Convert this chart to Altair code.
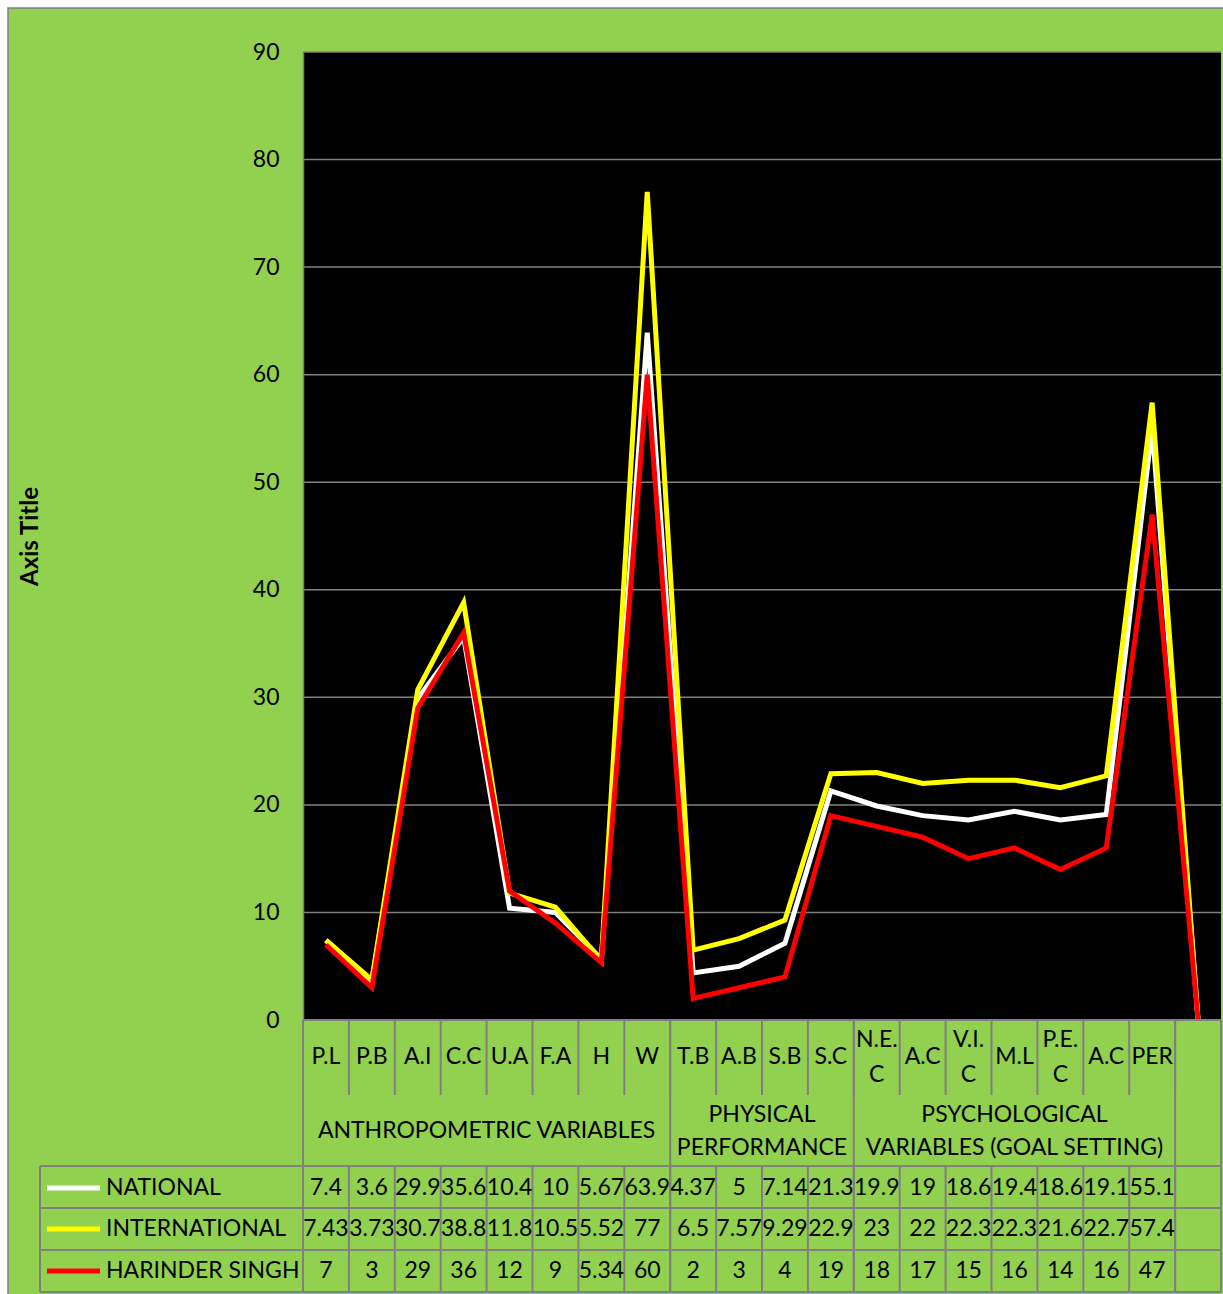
import altair as alt
import pandas as pd

# ---- data -------------------------------------------------------------
categories = ["P.L", "P.B", "A.I", "C.C", "U.A", "F.A", "H", "W",
              "T.B", "A.B", "S.B", "S.C",
              "N.E.\nC", "A.C", "V.I.\nC", "M.L", "P.E.\nC", "A.C", "PER", ""]

group_names = ["ANTHROPOMETRIC VARIABLES",
               "PHYSICAL\nPERFORMANCE",
               "PSYCHOLOGICAL\nVARIABLES (GOAL SETTING)"]
group_start = [0, 8, 12]
group_end = [8, 12, 19]

series_names = ["NATIONAL", "INTERNATIONAL", "HARINDER SINGH"]
series_colors = ["#FFFFFF", "#FFFF00", "#FF0000"]

national = [7.4, 3.6, 29.9, 35.6, 10.4, 10, 5.67, 63.9, 4.37, 5, 7.14, 21.3,
            19.9, 19, 18.6, 19.4, 18.6, 19.1, 55.1]
international = [7.43, 3.73, 30.7, 38.8, 11.8, 10.5, 5.52, 77, 6.5, 7.57, 9.29, 22.9,
                 23, 22, 22.3, 22.3, 21.6, 22.7, 57.4]
harinder = [7, 3, 29, 36, 12, 9, 5.34, 60, 2, 3, 4, 19,
            18, 17, 15, 16, 14, 16, 47]
series_values = [national, international, harinder]

y_ticks = [0, 10, 20, 30, 40, 50, 60, 70, 80, 90]

# ---- layout -----------------------------------------------------------
W, H = 918, 968
FONT = "Lato"
FS = 23
GREEN = "#92D050"
GRID = "#808080"

n_cat = len(categories)
x_scale = alt.Scale(domain=[0, n_cat], nice=False, zero=False)
y_scale = alt.Scale(domain=[0, 90], nice=False, zero=True)
y_axis = alt.Axis(values=y_ticks, title="Axis Title", grid=False, ticks=False,
                  domain=True, domainColor=GRID, domainWidth=1.5,
                  labelFont=FONT, labelFontSize=FS, labelColor="black",
                  labelPadding=24, titleFont=FONT, titleFontSize=24,
                  titleFontWeight="bold", titleColor="black",
                  titleX=-273, titleY=H / 2, titleAngle=-90,
                  titleBaseline="middle", zindex=1)

one = pd.DataFrame({"k": [0]})

layers = []

# green chart panel and black plot area
layers.append(alt.Chart(one).mark_rect(fill=GREEN, stroke=GRID, strokeWidth=1.5).encode(
    x=alt.value(-295), x2=alt.value(940), y=alt.value(-44), y2=alt.value(1270)))
layers.append(alt.Chart(one).mark_rect(fill="black").encode(
    x=alt.value(0), x2=alt.value(W), y=alt.value(0), y2=alt.value(H)))

# horizontal gridlines
grid_df = pd.DataFrame({"v": y_ticks})
layers.append(alt.Chart(grid_df).mark_rule(color=GRID, strokeWidth=1.5).encode(
    y=alt.Y("v:Q", scale=y_scale, axis=y_axis),
    x=alt.value(0), x2=alt.value(W)))

# series lines (the blank last column is plotted as zero)
for name, color, vals in zip(series_names, series_colors, series_values):
    line_vals = vals + [0]
    df = pd.DataFrame({"pos": [i + 0.5 for i in range(n_cat)], "value": line_vals})
    layers.append(alt.Chart(df).mark_line(color=color, strokeWidth=5, strokeJoin="miter").encode(
        x=alt.X("pos:Q", scale=x_scale, axis=None),
        y=alt.Y("value:Q", scale=y_scale, axis=y_axis)))

# data table grid
row_lines = [968, 1114, 1156, 1198, 1240]
for ry in row_lines:
    left = 0 if ry == 968 else -263
    layers.append(alt.Chart(one).mark_rule(color=GRID, strokeWidth=2).encode(
        x=alt.value(left), x2=alt.value(W), y=alt.value(ry)))

bounds = pd.DataFrame({"b": list(range(n_cat + 1))})
layers.append(alt.Chart(bounds).mark_rule(color=GRID, strokeWidth=2).encode(
    x=alt.X("b:Q", scale=x_scale, axis=None), y=alt.value(968), y2=alt.value(1043)))
layers.append(alt.Chart(bounds).mark_rule(color=GRID, strokeWidth=2).encode(
    x=alt.X("b:Q", scale=x_scale, axis=None), y=alt.value(1114), y2=alt.value(1240)))
group_bounds = pd.DataFrame({"b": [0] + group_end + [n_cat]})
layers.append(alt.Chart(group_bounds).mark_rule(color=GRID, strokeWidth=2).encode(
    x=alt.X("b:Q", scale=x_scale, axis=None), y=alt.value(968), y2=alt.value(1240)))
layers.append(alt.Chart(one).mark_rule(color=GRID, strokeWidth=2).encode(
    x=alt.value(-263), y=alt.value(1114), y2=alt.value(1240)))


def text_layer(df, field, y_center, line_height):
    """Text centred on y_center; wrapped labels are lifted so the block stays centred."""
    single = df[~df[field].str.contains("\n")]
    multi = df[df[field].str.contains("\n")]
    out = []
    for part, y in ((single, y_center), (multi, y_center - line_height / 2)):
        if len(part):
            out.append(alt.Chart(part).mark_text(
                font=FONT, fontSize=FS, color="black", lineBreak="\n",
                lineHeight=line_height, baseline="middle").encode(
                x=alt.X("pos:Q", scale=x_scale, axis=None), y=alt.value(y),
                text=f"{field}:N"))
    return out


# category labels
cat_df = pd.DataFrame({"pos": [i + 0.5 for i in range(n_cat)], "cat": categories})
layers += text_layer(cat_df, "cat", 1005, 35)

# group labels
grp_df = pd.DataFrame({"pos": [(s + e) / 2 for s, e in zip(group_start, group_end)],
                       "grp": group_names})
layers += text_layer(grp_df, "grp", 1079, 33)

# table rows: legend key, series name, values
row_centers = [1136, 1177, 1219]
for name, color, vals, ry in zip(series_names, series_colors, series_values, row_centers):
    layers.append(alt.Chart(one).mark_rule(color=color, strokeWidth=5).encode(
        x=alt.value(-256), x2=alt.value(-203), y=alt.value(ry)))
    layers.append(alt.Chart(pd.DataFrame({"name": [name]})).mark_text(
        font=FONT, fontSize=FS, color="black", align="left", baseline="middle").encode(
        x=alt.value(-197), y=alt.value(ry), text="name:N"))
    txt = pd.DataFrame({"pos": [i + 0.5 for i in range(len(vals))],
                        "label": [f"{v:g}" for v in vals]})
    layers.append(alt.Chart(txt).mark_text(font=FONT, fontSize=FS, color="black",
                                           baseline="middle").encode(
        x=alt.X("pos:Q", scale=x_scale, axis=None), y=alt.value(ry), text="label:N"))

chart = alt.layer(*layers).properties(
    width=W, height=H,
    autosize=alt.AutoSizeParams(type="none"),
    padding={"left": 303, "top": 52, "right": 2, "bottom": 274},
    background="white",
).configure_view(stroke=None)

chart.save("out.html", embed_options={"renderer": "svg", "actions": False})
